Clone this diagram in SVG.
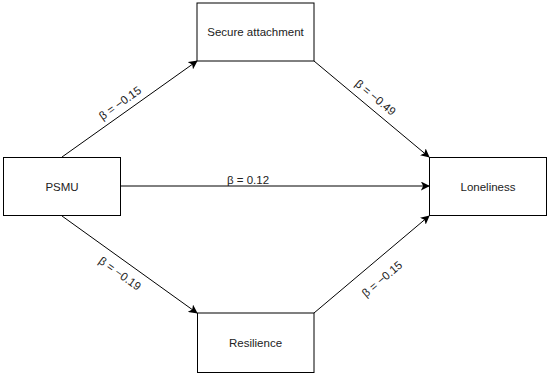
<svg xmlns="http://www.w3.org/2000/svg" width="550" height="376" viewBox="0 0 550 376">
<defs>
<style>
.box{fill:#fff;stroke:#000;stroke-width:1}
.lbl{font-family:"Liberation Sans",Arial,sans-serif;font-size:11.5px;fill:#222;text-anchor:middle;dominant-baseline:central}
.edge{stroke:#000;stroke-width:1;fill:none;marker-end:url(#arr)}
</style>
<marker id="arr" viewBox="0 0 10 10" refX="9" refY="5" markerWidth="9" markerHeight="9" markerUnits="userSpaceOnUse" orient="auto">
<path d="M0,0 L10,5 L0,10 L2.5,5 Z" fill="#000"/>
</marker>
</defs>
<rect width="550" height="376" fill="#fff"/>
<g id="connectors">
<line class="edge" x1="62" y1="157" x2="197" y2="61"/>
<line class="edge" x1="314" y1="61" x2="429" y2="157"/>
<line class="edge" x1="121" y1="186" x2="429" y2="186"/>
<line class="edge" x1="62" y1="216" x2="197" y2="313"/>
<line class="edge" x1="314" y1="313" x2="429" y2="216"/>
<text class="lbl" x="120" y="103" transform="rotate(-35.4 120 103)">β = −0.15</text>
<text class="lbl" x="375.5" y="97.5" transform="rotate(39.9 375.5 97.5)">β = −0.49</text>
<text class="lbl" x="248" y="180">β = 0.12</text>
<text class="lbl" x="120" y="273.5" transform="rotate(35.7 120 273.5)">β = −0.19</text>
<text class="lbl" x="382" y="279" transform="rotate(-40.1 382 279)">β = −0.15</text>
</g>
<g id="secure">
<rect class="box" x="197" y="3" width="117" height="58"/>
<text class="lbl" x="255.5" y="32">Secure attachment</text>
</g>
<g id="psmu">
<rect class="box" x="3.5" y="157.5" width="117" height="58"/>
<text class="lbl" x="62" y="186.5">PSMU</text>
</g>
<g id="loneliness">
<rect class="box" x="429.5" y="157.5" width="117" height="58"/>
<text class="lbl" x="488" y="186.5">Loneliness</text>
</g>
<g id="resilience">
<rect class="box" x="197.5" y="313" width="116.5" height="59.5"/>
<text class="lbl" x="255.5" y="342.5">Resilience</text>
</g>
</svg>
